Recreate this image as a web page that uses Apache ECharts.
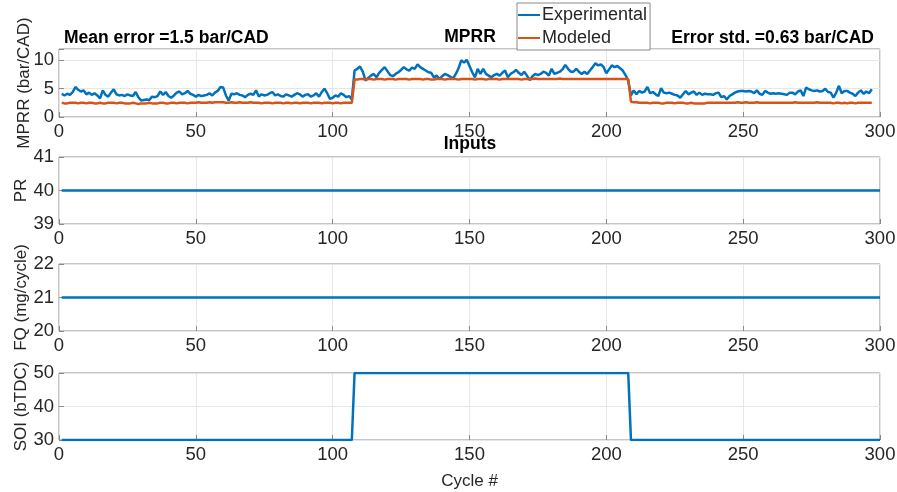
<!DOCTYPE html>
<html>
<head>
<meta charset="utf-8">
<script src="https://cdn.jsdelivr.net/npm/echarts@6/dist/echarts.min.js"></script>
<style>
  html, body { margin: 0; padding: 0; background: #fff; }
  #main { width: 897px; height: 492px; }
</style>
</head>
<body>
<div id="main"></div>
<script>
// MPRR per cycle (cycles 1..297)
const experimental = [
  4.1,3.8,4.1,3.9,4.4,5.3,4.8,4.5,4.7,4.0,
  4.3,3.9,4.2,3.8,3.3,4.7,3.9,3.6,4.3,4.9,
  4.0,3.8,3.9,3.7,4.0,3.8,3.7,4.4,3.5,2.9,
  3.0,3.1,3.0,3.6,3.5,3.7,4.5,3.9,4.4,3.7,
  3.4,3.8,4.3,4.5,4.0,4.2,4.6,4.1,3.9,3.6,
  3.9,3.7,3.8,3.9,4.2,3.8,4.3,4.6,5.3,5.2,
  3.8,2.9,4.1,4.0,4.2,3.9,3.8,3.5,3.9,4.1,
  3.9,4.7,3.6,4.0,3.8,3.9,4.2,4.4,3.8,4.0,
  3.7,3.6,4.0,3.8,3.6,3.9,4.2,4.0,3.6,3.9,
  4.0,3.6,3.8,4.2,3.6,4.4,5.0,4.2,3.2,3.4,
  3.8,3.6,4.2,3.9,3.5,3.7,3.1,8.2,8.5,8.9,
  8.0,6.4,6.9,7.3,7.6,7.0,7.8,8.3,8.8,8.1,
  7.4,7.2,7.6,7.9,8.3,8.8,8.4,8.2,8.7,8.5,
  9.3,8.8,8.5,8.2,7.9,7.8,7.0,7.3,6.7,7.2,
  7.6,7.4,7.1,6.8,7.6,8.6,10.0,9.6,10.1,9.0,
  7.9,7.0,8.5,7.6,8.5,7.6,7.3,7.0,7.4,7.6,
  7.3,7.8,8.2,7.0,7.6,7.9,8.3,7.8,7.4,8.0,
  7.3,6.5,7.2,7.6,7.4,7.6,8.0,7.8,7.3,8.5,
  7.6,7.8,8.0,8.4,9.2,8.5,8.0,8.0,8.5,8.0,
  7.6,8.0,7.6,8.2,8.8,9.5,9.1,9.3,8.8,7.7,
  8.4,9.1,8.8,9.0,8.6,8.2,7.4,6.4,3.8,4.7,
  4.0,4.6,4.3,4.5,5.3,4.2,4.4,4.0,3.7,5.1,
  4.3,4.2,4.3,4.1,3.9,3.8,3.4,4.0,4.6,4.0,
  4.3,4.5,3.9,4.3,3.9,4.1,4.0,4.0,3.9,4.2,
  4.3,3.5,3.7,3.1,3.7,4.0,4.3,4.5,4.6,4.6,
  4.5,4.6,4.5,4.2,4.7,4.1,3.9,4.6,4.3,4.1,
  4.2,4.1,4.2,4.1,4.0,3.9,4.3,4.3,4.0,4.5,
  4.7,3.7,5.2,4.9,4.7,4.6,4.7,4.5,4.6,5.0,
  4.4,4.3,3.4,4.3,5.5,4.2,4.6,4.6,4.3,4.1,
  3.7,4.3,4.7,4.1,4.5,4.2,4.9
];
const modeled = [
  2.5,2.4,2.4,2.5,2.5,2.5,2.4,2.5,2.5,2.4,
  2.5,2.5,2.4,2.4,2.5,2.4,2.4,2.5,2.5,2.5,
  2.4,2.5,2.5,2.4,2.4,2.4,2.5,2.4,2.3,2.4,
  2.4,2.4,2.5,2.4,2.4,2.4,2.5,2.5,2.4,2.4,
  2.5,2.5,2.4,2.5,2.5,2.5,2.4,2.5,2.5,2.5,
  2.6,2.5,2.5,2.5,2.6,2.5,2.6,2.6,2.6,2.6,
  2.5,2.5,2.6,2.5,2.5,2.6,2.5,2.5,2.5,2.6,
  2.5,2.5,2.5,2.4,2.5,2.5,2.5,2.4,2.5,2.5,
  2.5,2.4,2.5,2.5,2.4,2.5,2.5,2.4,2.5,2.5,
  2.5,2.4,2.5,2.5,2.5,2.4,2.5,2.5,2.5,2.4,
  2.5,2.5,2.4,2.5,2.5,2.5,2.5,
  6.6,6.6,6.7,6.7,6.6,6.7,6.7,6.6,6.7,6.7,
  6.7,6.6,6.7,6.7,6.7,6.6,6.7,6.7,6.7,6.7,
  6.6,6.7,6.7,6.7,6.7,6.6,6.7,6.7,6.6,6.6,
  6.7,6.7,6.7,6.6,6.7,6.7,6.7,6.7,6.6,6.7,
  6.7,6.7,6.7,6.7,6.6,6.7,6.7,6.7,6.6,6.7,
  6.7,6.7,6.7,6.6,6.7,6.7,6.7,6.7,6.7,6.7,
  6.7,6.6,6.7,6.7,6.7,6.7,6.8,6.7,6.7,6.7,
  6.7,6.7,6.7,6.7,6.7,6.8,6.7,6.7,6.7,6.7,
  6.7,6.7,6.7,6.7,6.7,6.7,6.7,6.7,6.7,6.7,
  6.7,6.7,6.7,6.7,6.7,6.7,6.7,6.7,6.7,6.7,
  6.7,
  2.7,2.6,2.6,2.5,2.5,2.5,2.5,2.4,2.5,2.5,
  2.5,2.4,2.4,2.5,2.5,2.5,2.4,2.5,2.5,2.5,
  2.4,2.4,2.5,2.4,2.4,2.4,2.4,2.4,2.5,2.5,
  2.5,2.5,2.5,2.5,2.5,2.5,2.5,2.5,2.5,2.6,
  2.5,2.5,2.6,2.5,2.5,2.5,2.6,2.5,2.5,2.5,
  2.5,2.5,2.5,2.5,2.5,2.5,2.5,2.5,2.5,2.5,
  2.6,2.5,2.5,2.5,2.5,2.5,2.5,2.5,2.6,2.5,
  2.5,2.5,2.5,2.5,2.4,2.5,2.5,2.4,2.5,2.4,
  2.5,2.5,2.4,2.5,2.5,2.5,2.5,2.5,2.5
];

// inputs (breakpoints: cycle / value)
const prCycles = [1, 300];
const prValues = [40, 40];
const fqCycles = [1, 300];
const fqValues = [21, 21];
const soiCycles = [1, 107, 108, 208, 209, 300];
const soiValues = [30, 30, 50, 50, 30, 30];

const xTicks = [0, 50, 100, 150, 200, 250, 300];

const FONT = "Liberation Sans";
const BLUE = "#0072BD";
const RED = "#D95319";
const TXT = "#262626";

const pairs = (xs, ys) => ys.map((v, i) => [xs[i], v]);
const byCycle = ys => ys.map((v, i) => [i + 1, v]);

const grids = [
  { left: 59, right: 17, top: 49, height: 68 },
  { left: 59, right: 17, top: 157, height: 67 },
  { left: 59, right: 17, top: 264, height: 67 },
  { left: 59, right: 17, top: 373, height: 67 },
].map(g => Object.assign(g, {
  show: true, borderColor: "#8a8a8a", borderWidth: 1,
  containLabel: false, outerBoundsMode: "none",
}));

const splitStyle = { show: true, lineStyle: { color: "#e6e6e6", width: 1 } };

const makeX = (i, name) => ({
  gridIndex: i,
  type: "value",
  min: xTicks[0],
  max: xTicks[xTicks.length - 1],
  interval: 50,
  name: name || "",
  nameLocation: "middle",
  nameGap: 33,
  nameMoveOverlap: false,
  nameTextStyle: { fontFamily: FONT, fontSize: 17, color: TXT },
  axisLine: { show: false },
  axisTick: { show: true, inside: true, length: 5, lineStyle: { color: "#8a8a8a" } },
  axisLabel: { fontFamily: FONT, fontSize: 18.5, color: TXT, margin: 5 },
  splitLine: splitStyle,
});

const makeY = (i, name, min, max, interval, gap) => ({
  gridIndex: i,
  type: "value",
  min: min,
  max: max,
  interval: interval,
  name: name,
  nameLocation: "middle",
  nameGap: gap,
  nameMoveOverlap: false,
  nameTextStyle: { fontFamily: FONT, fontSize: 17, color: TXT },
  axisLine: { show: false },
  axisTick: { show: true, inside: true, length: 5, lineStyle: { color: "#8a8a8a" } },
  axisLabel: {
    fontFamily: FONT, fontSize: 18.5, color: TXT, margin: 5,
    formatter: v => (v % interval === 0 ? String(v) : ""),
  },
  splitLine: splitStyle,
});

const titleStyle = { fontFamily: FONT, fontSize: 17.5, fontWeight: "bold", color: "#000" };

const option = {
  backgroundColor: "#fff",
  animation: false,
  title: [
    { text: "Mean error =1.5 bar/CAD", left: 64, top: 29, textStyle: titleStyle, padding: 0 },
    { text: "MPRR", left: 470, top: 28, textAlign: "center", textStyle: titleStyle, padding: 0 },
    { text: "Error std. =0.63 bar/CAD", right: 23, top: 29, textStyle: titleStyle, padding: 0 },
    { text: "Inputs", left: 470, top: 135, textAlign: "center", textStyle: titleStyle, padding: 0 },
  ],
  legend: {
    data: ["Experimental", "Modeled"],
    orient: "vertical",
    left: 517,
    top: 3,
    padding: [3, 3, 3, 1],
    itemGap: 5,
    itemWidth: 22,
    itemHeight: 2,
    icon: "rect",
    backgroundColor: "#fff",
    borderColor: "#8a8a8a",
    borderWidth: 1,
    textStyle: { fontFamily: FONT, fontSize: 18, color: TXT, padding: [0, 0, 0, -3] },
  },
  grid: grids,
  xAxis: [makeX(0), makeX(1), makeX(2), makeX(3, "Cycle #")],
  yAxis: [
    makeY(0, "MPRR (bar/CAD)", 0, 12, 5, 26),
    makeY(1, "PR", 39, 41, 1, 29),
    makeY(2, "FQ (mg/cycle)", 20, 22, 1, 29),
    makeY(3, "SOI (bTDC)", 30, 50, 10, 29),
  ],
  series: [
    {
      name: "Experimental", type: "line", xAxisIndex: 0, yAxisIndex: 0,
      data: byCycle(experimental), showSymbol: false, symbol: "none",
      lineStyle: { color: BLUE, width: 2.5 }, itemStyle: { color: BLUE },
    },
    {
      name: "Modeled", type: "line", xAxisIndex: 0, yAxisIndex: 0,
      data: byCycle(modeled), showSymbol: false, symbol: "none",
      lineStyle: { color: RED, width: 2.5 }, itemStyle: { color: RED },
    },
    {
      name: "PR", type: "line", xAxisIndex: 1, yAxisIndex: 1,
      data: pairs(prCycles, prValues), symbol: "none",
      lineStyle: { color: BLUE, width: 2.5 },
    },
    {
      name: "FQ", type: "line", xAxisIndex: 2, yAxisIndex: 2,
      data: pairs(fqCycles, fqValues), symbol: "none",
      lineStyle: { color: BLUE, width: 2.5 },
    },
    {
      name: "SOI", type: "line", xAxisIndex: 3, yAxisIndex: 3,
      data: pairs(soiCycles, soiValues), symbol: "none",
      lineStyle: { color: BLUE, width: 2.5 },
    },
  ],
};

const chart = echarts.init(document.getElementById("main"), null, { renderer: "canvas" });
chart.setOption(option);
</script>
</body>
</html>
